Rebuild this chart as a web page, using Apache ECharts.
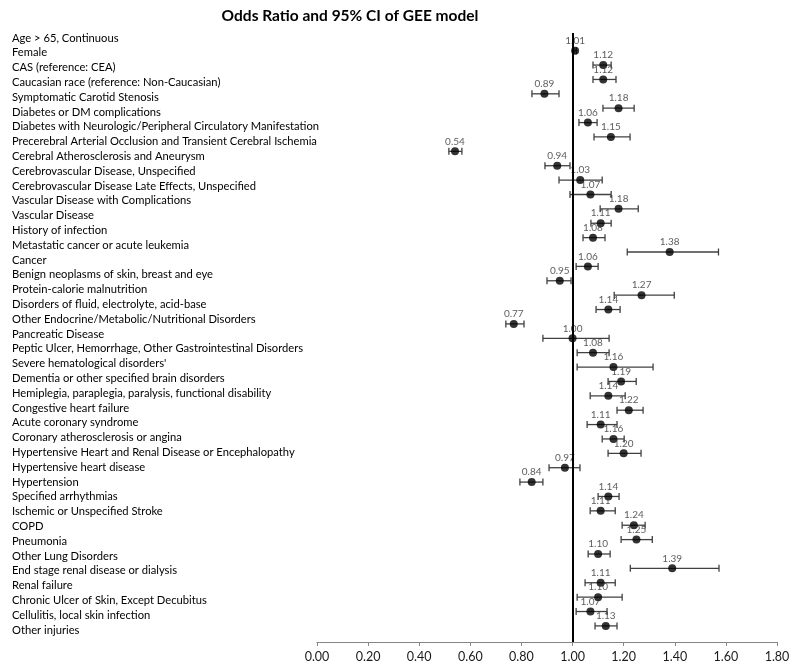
<!DOCTYPE html>
<html><head><meta charset="utf-8">
<script src="https://cdn.jsdelivr.net/npm/echarts@6/dist/echarts.min.js"></script>
<style>html,body{margin:0;padding:0;background:#fff}#c{width:800px;height:670px}</style>
</head><body><div id="c"></div>
<script>
const categories = [
"Age > 65, Continuous","Female","CAS (reference: CEA)","Caucasian race (reference: Non-Caucasian)",
"Symptomatic Carotid Stenosis","Diabetes or DM complications","Diabetes with Neurologic/Peripheral Circulatory Manifestation",
"Precerebral Arterial Occlusion and Transient Cerebral Ischemia","Cerebral Atherosclerosis and Aneurysm",
"Cerebrovascular Disease, Unspecified","Cerebrovascular Disease Late Effects, Unspecified","Vascular Disease with Complications",
"Vascular Disease","History of infection","Metastatic cancer or acute leukemia","Cancer","Benign neoplasms of skin, breast and eye",
"Protein-calorie malnutrition","Disorders of fluid, electrolyte, acid-base","Other Endocrine/Metabolic/Nutritional Disorders",
"Pancreatic Disease","Peptic Ulcer, Hemorrhage, Other Gastrointestinal Disorders","Severe hematological disorders'",
"Dementia or other specified brain disorders","Hemiplegia, paraplegia, paralysis, functional disability","Congestive heart failure",
"Acute coronary syndrome","Coronary atherosclerosis or angina","Hypertensive Heart and Renal Disease or Encephalopathy",
"Hypertensive heart disease","Hypertension","Specified arrhythmias","Ischemic or Unspecified Stroke","COPD","Pneumonia",
"Other Lung Disorders","End stage renal disease or dialysis","Renal failure","Chronic Ulcer of Skin, Except Decubitus",
"Cellulitis, local skin infection","Other injuries"
];
const oddsRatio = [1.01,1.12,1.12,0.89,1.18,1.06,1.15,0.54,0.94,1.03,1.07,1.18,1.11,1.08,1.38,1.06,0.95,1.27,1.14,0.77,
1.00,1.08,1.16,1.19,1.14,1.22,1.11,1.16,1.20,0.97,0.84,1.14,1.11,1.24,1.25,1.10,1.39,1.11,1.10,1.07,1.13];
const ciLow = [1.005,1.080,1.080,0.841,1.119,1.025,1.084,0.516,0.892,0.947,0.990,1.108,1.072,1.041,1.214,1.014,0.900,1.163,1.092,0.739,
0.884,1.018,1.018,1.139,1.069,1.174,1.057,1.116,1.139,0.908,0.794,1.100,1.069,1.194,1.190,1.061,1.226,1.049,1.018,1.014,1.088];
const ciHigh = [1.015,1.151,1.170,0.947,1.241,1.096,1.225,0.567,0.990,1.116,1.151,1.257,1.151,1.127,1.571,1.100,0.994,1.398,1.186,0.810,
1.143,1.143,1.315,1.249,1.206,1.276,1.174,1.202,1.268,1.029,0.884,1.182,1.167,1.284,1.312,1.147,1.573,1.167,1.194,1.135,1.174];
const xTicks = {min:0, max:1.8, interval:0.2};

const FONT = "Lato, 'Open Sans', sans-serif";
const chart = echarts.init(document.getElementById('c'), null, {renderer:'canvas'});
const pts = oddsRatio.map((v,i)=>[v,i]);
const bars = oddsRatio.map((v,i)=>[ciLow[i],ciHigh[i],i]);
chart.setOption({
  animation:false,
  backgroundColor:'#fff',
  title:{text:'Odds Ratio and 95% CI of GEE model',left:345,top:3,textAlign:'center',
    textStyle:{fontFamily:FONT,fontSize:15.5,fontWeight:'bold',color:'#000'}},
  grid:[
    {left:317,right:23,top:33,bottom:28},
    {left:317,right:23,top:30.6,bottom:32.6}
  ],
  xAxis:[
    {gridIndex:0,type:'value',min:xTicks.min,max:xTicks.max,interval:xTicks.interval,position:'bottom',
     axisLine:{show:true,onZero:false,lineStyle:{color:'#868686',width:1}},
     axisTick:{show:true,length:4,lineStyle:{color:'#868686'}},
     splitLine:{show:false},
     axisLabel:{formatter:v=>v.toFixed(2),fontFamily:FONT,fontSize:12.5,color:'#1a1a1a',margin:8}},
    {gridIndex:1,type:'value',show:false,min:0,max:1}
  ],
  yAxis:[
    {gridIndex:0,type:'value',min:-1.23,max:41.12,inverse:true,show:false},
    {gridIndex:1,type:'category',data:categories,inverse:true,
     axisLine:{show:false},axisTick:{show:false},splitLine:{show:false},
     axisLabel:{align:'left',margin:305,fontFamily:FONT,fontSize:11.2,color:'#000',interval:0}}
  ],
  series:[
    {type:'custom',xAxisIndex:0,yAxisIndex:0,data:bars,z:2,
     renderItem:function(params,api){
       const a=api.coord([api.value(0),api.value(2)]);
       const b=api.coord([api.value(1),api.value(2)]);
       const h=3.5, st={stroke:'#404040',lineWidth:1.3};
       return {type:'group',children:[
         {type:'line',shape:{x1:a[0],y1:a[1],x2:b[0],y2:b[1]},style:st},
         {type:'line',shape:{x1:a[0],y1:a[1]-h,x2:a[0],y2:a[1]+h},style:st},
         {type:'line',shape:{x1:b[0],y1:b[1]-h,x2:b[0],y2:b[1]+h},style:st}
       ]};
     }},
    {type:'scatter',xAxisIndex:0,yAxisIndex:0,data:pts,symbol:'circle',symbolSize:8,z:3,
     itemStyle:{color:'#000'},
     label:{show:true,position:'top',distance:1,formatter:p=>p.value[0].toFixed(2),
       fontFamily:FONT,fontSize:10,color:'#333'},
     markLine:{silent:true,symbol:'none',label:{show:false},
       lineStyle:{color:'#000',width:2,type:'solid'},data:[{xAxis:1}]}}
  ]
});
</script></body></html>
